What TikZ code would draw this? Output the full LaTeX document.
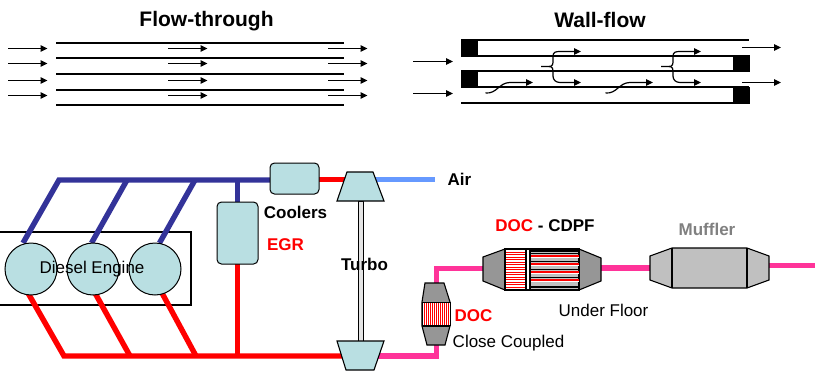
\documentclass[tikz,border=0pt]{standalone}
\usepackage{fontspec}
\setmainfont{Liberation Sans}
\usetikzlibrary{arrows.meta}
\definecolor{cyl}{HTML}{B9DFE2}
\definecolor{airblue}{HTML}{6699FF}
\definecolor{navy}{HTML}{333399}
\definecolor{pinkp}{HTML}{FF3399}
\definecolor{shell}{HTML}{969696}
\definecolor{muff}{HTML}{C0C0C0}
\definecolor{shaftc}{HTML}{E4E4E4}
\definecolor{greytext}{HTML}{808080}
\tikzset{
  flow/.style={line width=1.2pt,-{Triangle[length=7pt,width=6.5pt]}},
  wall/.style={line width=2pt},
  plug/.style={fill=black,draw=none},
  pipe/.style={line width=5.4pt,line join=miter},
  cylnode/.style={circle,draw,line width=1pt,fill=cyl,minimum size=52pt,inner sep=0pt},
  cooler/.style={rectangle,rounded corners=4.5pt,draw,line width=1pt,fill=cyl,inner sep=0pt},
  part/.style={draw,line width=1.1pt,line join=miter},
  title/.style={font=\bfseries\fontsize{21}{24}\selectfont,inner sep=0pt},
  lab/.style={font=\bfseries\fontsize{17}{20}\selectfont,inner sep=0pt},
  reg/.style={font=\fontsize{17}{20}\selectfont,inner sep=0pt},
}
\begin{document}
\begin{tikzpicture}[x=1pt,y=-1pt]
\useasboundingbox (0,0) rectangle (815,370);
% titles
\node[title] (tflow) at (206.5,21) {Flow-through};
\node[title] (twall) at (600,20) {Wall-flow};
% flow-through
\foreach \y in {43,58,74,90,105} \draw[wall] (56,\y) -- (344,\y);
\foreach \y in {48.5,63.5,80.5,95.5} {
  \draw[flow] (8,\y) -- (47.5,\y);
  \draw[flow] (168,\y) -- (207.5,\y);
  \draw[flow] (328,\y) -- (367.5,\y);
}
% wall-flow
\foreach \y in {40,56,71,87,103} \draw[wall] (461,\y) -- (749,\y);
\fill[plug] (461,39) rectangle (478,57);
\fill[plug] (461,71) rectangle (478,88);
\fill[plug] (733,55) rectangle (750,72);
\fill[plug] (733,87) rectangle (750,104);
\draw[flow] (413,61.5) -- (453,61.5);
\draw[flow] (413,93.5) -- (453,93.5);
\draw[flow] (742,47.5) -- (781,47.5);
\draw[flow] (742,82.5) -- (781,82.5);
\foreach \d in {0,120} {
  \begin{scope}[xshift=\d pt]
  \draw[flow] (541,66.5) -- (549,66.5) .. controls (553,66.5) and (553,64) .. (553,60) -- (553,56) .. controls (553,52) and (556,51.5) .. (560,51.5) -- (581,51.5);
  \draw[flow] (549,66.5) .. controls (553,66.5) and (553,69) .. (553,73) -- (553,76) .. controls (553,80) and (556,82.5) .. (560,82.5) -- (581,82.5);
  \draw[flow] (485.5,93) .. controls (497,94) and (499,82.5) .. (510,82.5) -- (533,82.5);
  \end{scope}
}
% junctions and pipe ends
\coordinate (m1) at (59,180);
\coordinate (m2) at (127,180);
\coordinate (m3) at (195,180);
\coordinate (m4) at (237.5,180);
\coordinate (m5) at (275,180);
\coordinate (r1) at (64,356);
\coordinate (r2) at (130,356);
\coordinate (r3) at (196,356);
\coordinate (r4) at (237.5,356);
\coordinate (cin1) at (23,243);
\coordinate (cin2) at (91.5,243);
\coordinate (cin3) at (159.5,243);
\coordinate (cout1) at (28,293);
\coordinate (cout2) at (95,293);
\coordinate (cout3) at (162,293);
\coordinate (compW) at (350,179.5);
\coordinate (compE) at (370,179.5);
\coordinate (coolE) at (315,179.5);
\coordinate (airEnd) at (434.5,179.5);
\coordinate (egrN) at (237.5,210);
\coordinate (egrS) at (237.5,260);
\coordinate (turbW) at (345,356);
\coordinate (turbE) at (376,356);
\coordinate (p1) at (436.5,356);
\coordinate (p2) at (436.5,268.5);
\coordinate (dpfW) at (486,268.5);
\coordinate (dpfE) at (600,268);
\coordinate (mufW) at (653,268);
\coordinate (mufE) at (767,265.5);
\coordinate (tail) at (815,265.5);
% engine block
\draw[line width=1.1pt] (-5,232) rectangle (191,305);
% pipes
\draw[pipe,navy] (cin1) -- (m1) -- (m5);
\draw[pipe,navy] (cin2) -- (m2);
\draw[pipe,navy] (cin3) -- (m3);
\draw[pipe,navy] (m4) -- (egrN);
\draw[pipe,red] (cout1) -- (r1) -- (turbW);
\draw[pipe,red] (cout2) -- (r2);
\draw[pipe,red] (cout3) -- (r3);
\draw[pipe,red] (egrS) -- (r4);
\draw[pipe,red] (coolE) -- (compW);
\draw[pipe,airblue] (compE) -- (airEnd);
\draw[pipe,pinkp] (turbE) -- (p1) -- (p2) -- (dpfW);
\draw[pipe,pinkp] (dpfE) -- (mufW);
\draw[pipe,pinkp] (mufE) -- (tail);
% shapes on top
\node[cylnode] (c1) at (31,269) {};
\node[cylnode] (c2) at (93,269) {};
\node[cylnode] (c3) at (155,269) {};
\node[cooler,minimum width=41pt,minimum height=62pt] (egr) at (237.5,233) {};
\node[cooler,minimum width=49pt,minimum height=31pt] (cool) at (294.5,178.5) {};
\node[reg] (eng) at (92,269.5) {Diesel Engine};
% turbo
\draw[line width=0.8pt,fill=shaftc] (358,201) rectangle (363,341);
\draw[part,fill=cyl] (347,172) -- (373,172) -- (384,201) -- (337,201) -- cycle;
\draw[part,fill=cyl] (337,341) -- (384,341) -- (374,370) -- (346,370) -- cycle;
% close coupled DOC
\draw[part,fill=shell] (425,283) -- (444,283) -- (450,302) -- (450,326) -- (445,345) -- (427,345) -- (422,326) -- (422,302) -- cycle;
\fill[white] (422,302) rectangle (450,326);
\draw[line width=0.9pt] (422,302) -- (450,302);
\draw[line width=0.9pt] (422,302) -- (422,326) (450,302) -- (450,326);
\draw[line width=1.6pt] (422,326) -- (450,326);
\foreach \x in {424,426,...,448} \fill[red] (\x+0.3,303.3) rectangle (\x+0.7,324.7);
% under-floor DOC-CDPF
\draw[part,fill=shell] (483,257) -- (505,249) -- (579,249) -- (601,258) -- (601,281) -- (579,290) -- (505,290) -- (483,281) -- cycle;
\fill[white] (505,249) rectangle (526,290);
\fill[black] (525,249) rectangle (531,290);
\fill[white] (527,250) rectangle (529,289);
\fill[muff] (531,249) rectangle (579,290);
\draw[part] (505,249) rectangle (579,290);
\foreach \y in {251.5,254,...,288} \fill[red] (506.3,\y) rectangle (524.7,\y+1.2);
\foreach \y in {254,262,270,278} \fill[white] (531.3,\y+3.2) rectangle (578.7,\y+4);
\foreach \y in {254,262,270,278} \fill[black] (531.3,\y-0.6) rectangle (578.7,\y+0.2);
\foreach \y in {254,262,270,278} \fill[red] (531.3,\y+1) rectangle (578.7,\y+2.8);
\fill[black] (531.3,250.3) rectangle (578.7,251.7);
\fill[black] (531.3,286.3) rectangle (578.7,287.7);
% muffler
\draw[part,fill=muff] (650,256) -- (672,248) -- (747,248) -- (769,256) -- (769,280) -- (747,288) -- (672,288) -- (650,280) -- cycle;
\draw[part] (672,248) -- (672,288);
\draw[part] (747,248) -- (747,288);
% labels
\node[lab] (air) at (459.5,179.5) {Air};
\node[lab] (coolers) at (295.5,212) {Coolers};
\node[lab,red] (egrt) at (285.5,245) {EGR};
\node[lab] (turbo) at (364.5,264) {Turbo};
\node[lab,red] (doc) at (473.5,316) {DOC};
\node[reg] (cc) at (508.5,343) {Close Coupled};
\node[reg] (uf) at (603.5,310) {Under Floor};
\node[lab] (dc) at (545,226) {\textcolor{red}{DOC} - CDPF};
\node[lab,text=greytext] (muf) at (707,229) {Muffler};
\end{tikzpicture}
\end{document}
